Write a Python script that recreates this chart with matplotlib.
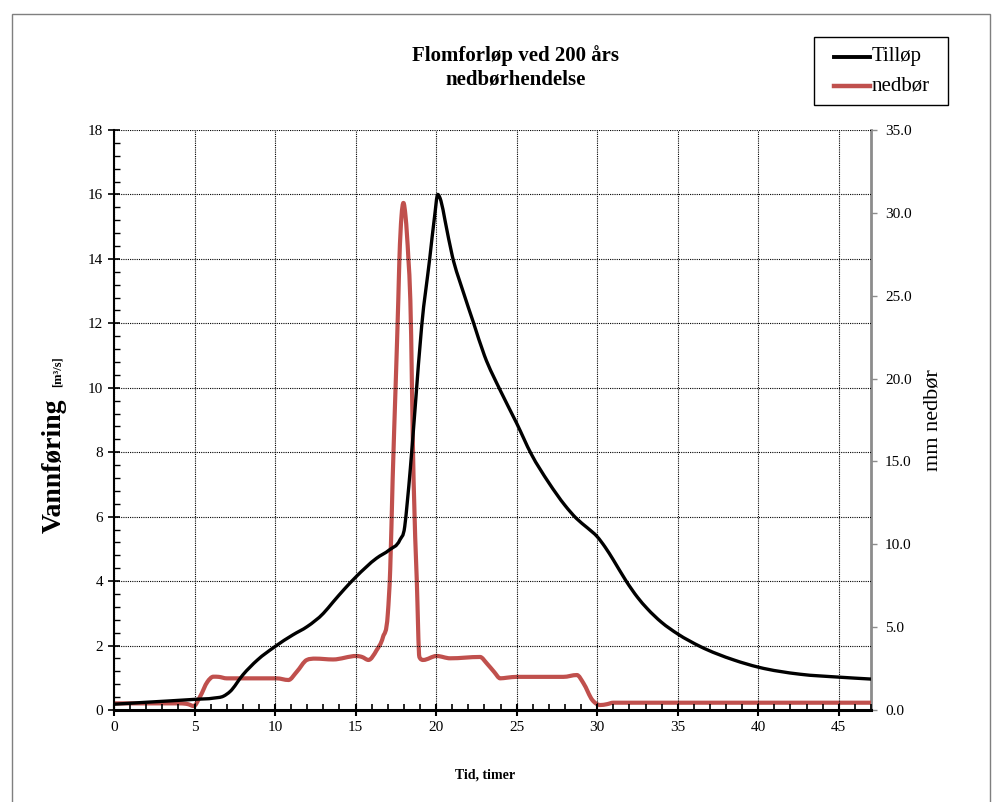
import matplotlib
matplotlib.use("Agg")
import numpy as np
import matplotlib.pyplot as plt
from matplotlib.lines import Line2D
from matplotlib.patches import Rectangle, PathPatch
from matplotlib.path import Path
from matplotlib.ticker import MultipleLocator, FormatStrFormatter

# ---- data ----
t_inflow = [0, 2, 5, 6.2, 6.8, 7.2, 8.0, 8.9, 10.0, 11.1, 12.0, 13.0, 13.6, 14.3,
            15.0, 16.3, 17.1, 17.75, 18.05, 18.2, 18.4, 18.7, 19.1, 19.6, 19.9,
            20.1, 20.3, 20.55, 21.0, 21.7, 22.3, 23.0, 24.0, 25.0, 25.9, 27.0,
            28.0, 28.7, 29.4, 30.0, 30.5, 31.0, 31.8, 32.5, 33.1, 34.0, 35.0,
            36.4, 38.5, 40.0, 42.6, 45.0, 47.0]
inflow = [0.18, 0.24, 0.33, 0.37, 0.43, 0.57, 1.09, 1.55, 1.97, 2.33, 2.59, 3.0,
          3.35, 3.75, 4.12, 4.71, 4.97, 5.28, 5.69, 6.4, 7.5, 9.4, 11.9, 14.0,
          15.3, 16.0, 15.8, 15.2, 14.1, 12.95, 12.05, 11.0, 9.9, 8.9, 7.95, 7.05,
          6.35, 5.95, 5.65, 5.38, 5.05, 4.66, 4.0, 3.5, 3.15, 2.72, 2.36,
          1.97, 1.55, 1.33, 1.11, 1.02, 0.96]

t_rain = [0, 4.1, 4.6, 4.95, 5.34, 5.8, 6.17, 6.5, 7.0, 10.1, 10.83, 11.35, 11.97,
          12.5, 13.6, 15.05, 15.4, 15.8, 16.3, 16.7, 17.0, 17.15, 17.3, 17.5,
          17.65, 17.72, 17.85, 17.97, 18.1, 18.28, 18.4, 18.6, 18.8, 18.96, 19.2,
          20.03, 20.87, 22.73, 23.14, 23.6, 23.98, 24.4, 25.0, 27.9, 28.74,
          29.15, 29.7, 30.19, 30.6, 31.0, 47.0]
rain = [0.4, 0.4, 0.35, 0.24, 0.8, 1.7, 2.01, 2.0, 1.91, 1.91, 1.81, 2.31, 3.02,
        3.1, 3.05, 3.26, 3.2, 3.02, 3.6, 4.4, 5.8, 8.5, 13.9, 20.0,
        24.7, 27.2, 29.8, 30.6, 29.8, 27.2, 24.7, 13.9, 7.8, 3.2, 3.02,
        3.26, 3.12, 3.2, 2.82, 2.3, 1.91, 1.95, 2.0, 2.0, 2.11,
        1.61, 0.6, 0.3, 0.35, 0.44, 0.44]

title_text = "Flomforløp ved 200 års\nnedbørhendelse"
series_names = ["Tilløp", "nedbør"]
black = "#000000"
red = "#c0504d"

plt.rcParams['font.family'] = ['Liberation Serif', 'DejaVu Serif']


def smooth_path(x, y):
    """Bezier path through the data points (like a spreadsheet 'smoothed line')."""
    x = np.asarray(x, float)
    y = np.asarray(y, float)
    h = np.diff(x)
    d = np.diff(y) / h
    m = np.zeros_like(y)
    m[0], m[-1] = d[0], d[-1]
    for i in range(1, len(x) - 1):
        if d[i - 1] * d[i] <= 0:
            m[i] = 0.0
        else:
            m[i] = (d[i - 1] * h[i] + d[i] * h[i - 1]) / (h[i - 1] + h[i])
            lim = 3 * min(abs(d[i - 1]), abs(d[i]))
            if abs(m[i]) > lim:
                m[i] = np.sign(m[i]) * lim
    verts = [(x[0], y[0])]
    codes = [Path.MOVETO]
    for i in range(len(x) - 1):
        verts += [(x[i] + h[i] / 3, y[i] + m[i] * h[i] / 3),
                  (x[i + 1] - h[i] / 3, y[i + 1] - m[i + 1] * h[i] / 3),
                  (x[i + 1], y[i + 1])]
        codes += [Path.CURVE4] * 3
    return Path(verts, codes)


W, H = 1000, 802
fig = plt.figure(figsize=(W / 100, H / 100), dpi=100)

# outer frame
fig.patches.append(Rectangle((12 / W, -0.01), (990 - 12) / W, 1 - 14 / H + 0.01,
                             transform=fig.transFigure, fill=False,
                             edgecolor="#7f7f7f", linewidth=1.0))

left, right, bottom, top = 114, 871, 710, 130
ax = fig.add_axes([left / W, 1 - bottom / H, (right - left) / W, (bottom - top) / H])
ax2 = ax.twinx()

ax.add_patch(PathPatch(smooth_path(t_inflow, inflow), fill=False, edgecolor=black,
                       lw=2.4, joinstyle='round', capstyle='round', zorder=3))
ax2.add_patch(PathPatch(smooth_path(t_rain, rain), fill=False, edgecolor=red,
                        lw=3.0, joinstyle='round', capstyle='round', zorder=3))

ax.set_xlim(0, 47)
ax.set_ylim(0, 18)
ax2.set_ylim(0, 35)

ax.xaxis.set_major_locator(MultipleLocator(5))
ax.xaxis.set_minor_locator(MultipleLocator(1))
ax.yaxis.set_major_locator(MultipleLocator(2))
ax.yaxis.set_minor_locator(MultipleLocator(0.4))
ax2.yaxis.set_major_locator(MultipleLocator(5))
ax2.yaxis.set_major_formatter(FormatStrFormatter('%.1f'))

ax.grid(True, which='major', color='black', linestyle=(0, (1, 1)), linewidth=0.8)
ax.set_axisbelow(True)

ax.spines['top'].set_visible(False)
ax2.spines['top'].set_visible(False)
ax.spines['left'].set_linewidth(1.5)
ax.spines['bottom'].set_linewidth(2.2)
ax2.spines['left'].set_visible(False)
ax2.spines['bottom'].set_visible(False)
ax2.spines['right'].set_color('#8c8c8c')
ax2.spines['right'].set_linewidth(2.0)
ax.spines['right'].set_visible(False)

ax.tick_params(axis='x', which='major', direction='inout', length=8, width=1.5,
               labelsize=11, pad=4)
ax.tick_params(axis='x', which='minor', direction='in', length=4, width=1.2)
ax.tick_params(axis='y', which='major', direction='inout', length=8, width=1.2,
               labelsize=11, pad=4)
ax.tick_params(axis='y', which='minor', direction='in', length=4, width=1.0)
ax2.tick_params(axis='y', which='major', direction='out', length=4, width=1.0,
                color='#8c8c8c', labelsize=11, pad=6)

ax.set_zorder(ax2.get_zorder() + 1)
ax.patch.set_visible(False)

# title
fig.text(516 / W, 1 - 67.5 / H, title_text, ha='center', va='center',
         fontsize=15, fontweight='bold', linespacing=1.2)

# y label (two parts)
fig.text(61 / W, 1 - 533 / H, "Vannføring", rotation=90, rotation_mode='anchor',
         ha='left', va='baseline', fontsize=20, fontweight='bold')
fig.text(61 / W, 1 - 387 / H, "[m³/s]", rotation=90, rotation_mode='anchor',
         ha='left', va='baseline', fontsize=9, fontweight='bold')

# right label
fig.text(933 / W, 1 - 420 / H, "mm nedbør", rotation=90, ha='center', va='center',
         fontsize=16)

# x label
fig.text(485 / W, 1 - 775 / H, "Tid, timer", ha='center', va='center',
         fontsize=10, fontweight='bold')

# legend (drawn as a boxed key in figure coordinates)
fig.patches.append(Rectangle((814 / W, 1 - 105 / H), (948 - 814) / W, (105 - 37) / H,
                             transform=fig.transFigure, fill=True, facecolor='white',
                             edgecolor='black', linewidth=1.0, zorder=5))
for yy, col, lw, name in [(57, black, 2.8, series_names[0]),
                          (86, red, 3.2, series_names[1])]:
    fig.lines.append(Line2D([834 / W, 870 / W], [1 - yy / H, 1 - yy / H],
                            transform=fig.transFigure, color=col, lw=lw, zorder=6))
    fig.text(872 / W, 1 - yy / H, name, ha='left', va='center', fontsize=15, zorder=7)

fig.savefig("out.png", dpi=100)
